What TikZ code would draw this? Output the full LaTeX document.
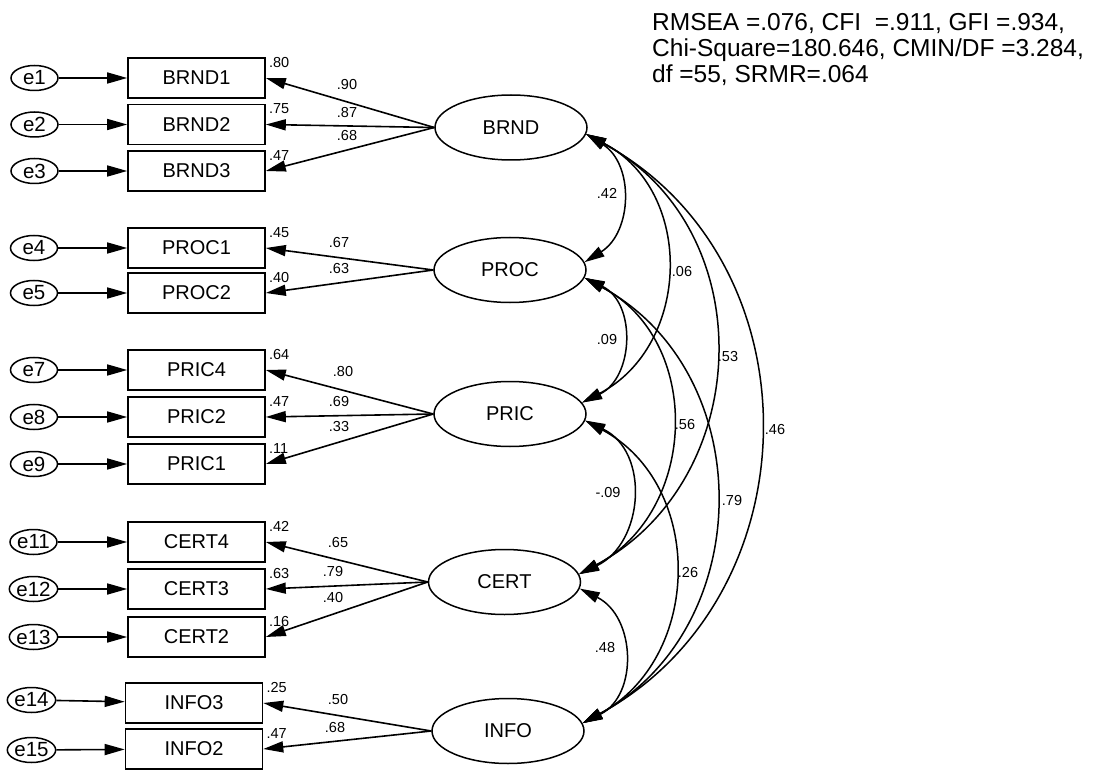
\documentclass[tikz,border=0pt]{standalone}
\usepackage{fontspec}
\setmainfont{Liberation Sans}
\usetikzlibrary{arrows.meta,shapes.geometric,calc}

\begin{document}
\begin{tikzpicture}[x=1pt,y=-1pt,
  every node/.style={inner sep=0pt},
  obs/.style={draw, line width=1.6pt, minimum width=137pt, minimum height=40pt,
    font=\fontsize{20}{24}\selectfont},
  lat/.style={draw, ellipse, line width=1.5pt, minimum width=152pt, minimum height=65pt,
    font=\fontsize{20}{24}\selectfont},
  err/.style={draw, ellipse, line width=1.5pt, minimum width=47pt, minimum height=25pt,
    font=\fontsize{20.5}{24}\selectfont},
  tip/.tip={Triangle[length=20pt,width=11pt]},
  path/.style={-tip, line width=1.6pt},
  cov/.style={tip-tip, line width=1.5pt},
  num/.style={font=\fontsize{14.5}{17}\selectfont},
  sq/.style={num, anchor=west},
  fitline/.style={anchor=base west, font=\fontsize{24.5}{26}\selectfont}
]
\useasboundingbox (0,0) rectangle (1109,770);

% fit indices
\node[fitline] (fit1) at (652,31) {RMSEA =.076, CFI~ =.911, GFI =.934,};
\node[fitline] (fit2) at (652,57) {Chi-Square=180.646, CMIN/DF =3.284,};
\node[fitline] (fit3) at (652,83) {df =55, SRMR=.064};

% latent factors
\node[lat] (BRND) at (511,127.5) {BRND};
\node[lat] (PROC) at (510,270) {PROC};
\node[lat] (PRIC) at (510,414) {PRIC};
\node[lat] (CERT) at (504.5,582) {CERT};
\node[lat] (INFO) at (508,731) {INFO};

% indicators
\node[obs] (BRND1) at (196.5,78) {BRND1};
\node[obs] (BRND2) at (196.5,124.5) {BRND2};
\node[obs] (BRND3) at (196.5,171) {BRND3};
\node[obs] (PROC1) at (196.5,248) {PROC1};
\node[obs] (PROC2) at (196.5,293) {PROC2};
\node[obs] (PRIC4) at (196.5,370) {PRIC4};
\node[obs] (PRIC2) at (196.5,417) {PRIC2};
\node[obs] (PRIC1) at (196.5,464) {PRIC1};
\node[obs] (CERT4) at (196.5,542) {CERT4};
\node[obs] (CERT3) at (196.5,589) {CERT3};
\node[obs] (CERT2) at (196.5,637) {CERT2};
\node[obs] (INFO3) at (194,703) {INFO3};
\node[obs] (INFO2) at (194,749) {INFO2};

% error terms
\node[err] (e1) at (34.5,78) {e1};
\node[err] (e2) at (34.5,124.5) {e2};
\node[err] (e3) at (34.5,171) {e3};
\node[err] (e4) at (34,248) {e4};
\node[err] (e5) at (34,293) {e5};
\node[err] (e7) at (34,370) {e7};
\node[err] (e8) at (34,417) {e8};
\node[err] (e9) at (34,464) {e9};
\node[err] (e11) at (33.5,542) {e11};
\node[err] (e12) at (33.5,589) {e12};
\node[err] (e13) at (33.5,637) {e13};
\node[err] (e14) at (31.5,700) {e14};
\node[err] (e15) at (31.5,750) {e15};

% error paths
\foreach \e/\o in {e1/BRND1,e2/BRND2,e3/BRND3,e4/PROC1,e5/PROC2,e7/PRIC4,e8/PRIC2,
  e9/PRIC1,e11/CERT4,e12/CERT3,e13/CERT2,e14/INFO3,e15/INFO2}
  \draw[path] (\e) -- (\o);

% factor loadings
\foreach \f/\o in {BRND/BRND1,BRND/BRND2,BRND/BRND3,PROC/PROC1,PROC/PROC2,
  PRIC/PRIC4,PRIC/PRIC2,PRIC/PRIC1,CERT/CERT4,CERT/CERT3,CERT/CERT2,INFO/INFO3,INFO/INFO2}
  \draw[path] (\f.west) -- (\o.east);

% squared multiple correlations
\foreach \o/\v in {BRND1/.80,BRND2/.75,BRND3/.47,PROC1/.45,PROC2/.40,PRIC4/.64,
  PRIC2/.47,PRIC1/.11,CERT4/.42,CERT3/.63,CERT2/.16,INFO3/.25,INFO2/.47}
  \node[sq] (r\o) at ($(\o.north east)+(3,5)$) {\v};

% loading estimates
\node[num] (lb1) at (347,85) {.90};
\node[num] (lb2) at (347,113) {.87};
\node[num] (lb3) at (347,136) {.68};
\node[num] (lp1) at (339,243) {.67};
\node[num] (lp2) at (339,269) {.63};
\node[num] (lr4) at (343,372) {.80};
\node[num] (lr2) at (339,402) {.69};
\node[num] (lr1) at (339,427) {.33};
\node[num] (lc4) at (338,543) {.65};
\node[num] (lc3) at (333,572) {.79};
\node[num] (lc2) at (333,598) {.40};
\node[num] (li3) at (338,700) {.50};
\node[num] (li2) at (335,728) {.68};

% factor covariances
\draw[cov] (BRND.-5) .. controls +(48,30) and +(48,-30) .. (PROC.6);
\draw[cov] (PROC.-6) .. controls +(52,25) and +(52,-25) .. (PRIC.9);
\draw[cov] (PRIC.-5) .. controls +(65,31) and +(65,-31) .. (CERT.6);
\draw[cov] (CERT.-5) .. controls +(56,28) and +(56,-28) .. (INFO.6);
\draw[cov] (BRND.-5) .. controls +(109,57) and +(109,-57) .. (PRIC.9);
\draw[cov] (PROC.-6) .. controls +(119,63) and +(119,-63) .. (CERT.6);
\draw[cov] (PRIC.-5) .. controls +(120,65) and +(120,-65) .. (INFO.6);
\draw[cov] (BRND.-5) .. controls +(176,95) and +(176,-95) .. (CERT.6);
\draw[cov] (PROC.-6) .. controls +(175,95) and +(175,-95) .. (INFO.6);
\draw[cov] (BRND.-5) .. controls +(233,127) and +(233,-127) .. (INFO.6);

% covariance estimates
\node[num] (c1) at (607,193) {.42};
\node[num] (c2) at (607,340) {.09};
\node[num] (c3) at (608,493) {-.09};
\node[num] (c4) at (605,648) {.48};
\node[num] (c5) at (682,272) {.06};
\node[num] (c6) at (685,425) {.56};
\node[num] (c7) at (688,573) {.26};
\node[num] (c8) at (728,357) {.53};
\node[num] (c9) at (732,501) {.79};
\node[num] (c10) at (775,430) {.46};
\end{tikzpicture}
\end{document}
